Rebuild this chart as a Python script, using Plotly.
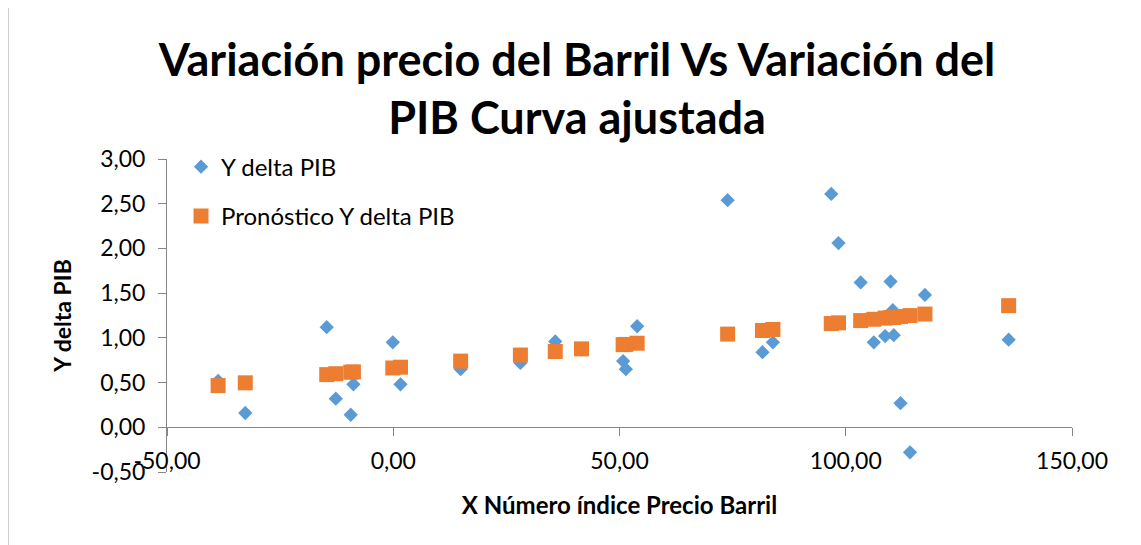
import plotly.graph_objects as go

# X número índice precio barril / Y delta PIB (observado)
x_barril = [-38.7, -32.7, -14.7, -12.7, -9.4, -8.8, -0.1, 1.6, 14.9, 28.1,
            35.8, 41.6, 50.8, 51.4, 53.9, 73.9, 81.6, 83.9, 96.8, 98.4,
            103.3, 106.2, 108.7, 109.9, 110.4, 110.6, 112.1, 114.2, 117.5, 136.0]
y_delta_pib = [0.52, 0.16, 1.12, 0.32, 0.14, 0.48, 0.95, 0.48, 0.65, 0.72,
               0.96, 0.87, 0.74, 0.65, 1.13, 2.54, 0.84, 0.95, 2.61, 2.06,
               1.62, 0.95, 1.02, 1.63, 1.31, 1.03, 0.27, -0.28, 1.48, 0.98]
# pronóstico (curva ajustada)
y_pronostico = [0.466, 0.497, 0.589, 0.599, 0.616, 0.619, 0.663, 0.672, 0.740, 0.808,
                0.847, 0.877, 0.924, 0.927, 0.940, 1.042, 1.082, 1.094, 1.160, 1.168,
                1.193, 1.208, 1.221, 1.227, 1.229, 1.230, 1.238, 1.249, 1.266, 1.360]

x_ticks = [-50, 0, 50, 100, 150]
x_tick_text = ["-50,00", "0,00", "50,00", "100,00", "150,00"]
y_ticks = [-0.5, 0, 0.5, 1.0, 1.5, 2.0, 2.5, 3.0]
y_tick_text = ["-0,50", "0,00", "0,50", "1,00", "1,50", "2,00", "2,50", "3,00"]

FONT = "Lato"
AXIS_GREY = "#868686"

fig = go.Figure()

fig.add_trace(go.Scatter(
    x=x_barril, y=y_delta_pib,
    mode="markers", name="Y delta PIB", legendgroup="a",
    marker=dict(symbol="diamond", size=11, color="#5B9BD5"),
    xaxis="x", yaxis="y",
))

fig.add_trace(go.Scatter(
    x=x_barril, y=y_pronostico,
    mode="markers", name="Pronóstico Y delta PIB", legendgroup="b",
    marker=dict(symbol="square", size=15, color="#ED7D31"),
    xaxis="x2", yaxis="y",
))

# the page body has an 8px margin, so the figure is 8px smaller than the window
fig.update_layout(
    width=1133, height=537,
    paper_bgcolor="white", plot_bgcolor="white",
    margin=dict(l=159, r=69, t=151, b=73, autoexpand=False),
    font=dict(family=FONT, color="black"),
    title=dict(
        text="<b>Variación precio del Barril Vs Variación del<br>PIB Curva ajustada</b>",
        x=569 / 1133, xanchor="center", y=0.874, yanchor="top",
        font=dict(size=45, family=FONT),
        automargin=False,
    ),
    showlegend=True,
    legend=dict(
        x=0.0155, y=1.046, xanchor="left", yanchor="top",
        font=dict(size=24), bgcolor="rgba(0,0,0,0)",
        traceorder="grouped", tracegroupgap=15,
    ),
    xaxis=dict(
        range=[-50, 150], tickvals=x_ticks, ticktext=x_tick_text,
        showgrid=False, zeroline=False, showline=False, ticks="",
        anchor="free", position=0.086, automargin=False,
        tickfont=dict(size=23),
        title=dict(text="<b>X Número índice Precio Barril</b>", font=dict(size=24), standoff=24),
    ),
    xaxis2=dict(
        range=[-50, 150], tickvals=x_ticks, matches="x", overlaying="x",
        showgrid=False, zeroline=False, showline=True, linecolor=AXIS_GREY, linewidth=1,
        ticks="outside", ticklen=8, tickcolor=AXIS_GREY, showticklabels=False,
        anchor="free", position=0.5 / 3.5, automargin=False,
    ),
    yaxis=dict(
        range=[-0.5, 3.0], tickvals=y_ticks, ticktext=y_tick_text,
        showgrid=False, zeroline=False, showline=True, linecolor=AXIS_GREY, linewidth=1,
        ticks="outside", ticklen=8, tickcolor=AXIS_GREY, automargin=False,
        tickfont=dict(size=23), ticklabelstandoff=8,
        title=dict(text="<b>Y delta PIB</b>", font=dict(size=23), standoff=13),
    ),
)

# marco del gráfico (solo visibles borde superior e izquierdo)
fig.add_shape(
    type="rect", xref="paper", yref="paper",
    x0=(8 - 167) / 905, x1=1.2, y0=-0.5, y1=(472 - 5.5) / 313,
    line=dict(color="#BFBFBF", width=1.5), fillcolor="rgba(0,0,0,0)", layer="below",
)

fig.write_html("out.html")
